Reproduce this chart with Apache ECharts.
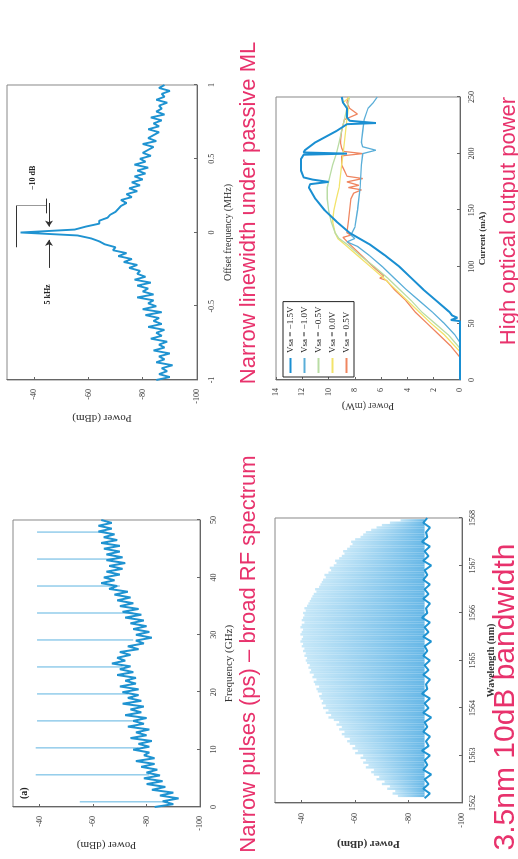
<!DOCTYPE html>
<html>
<head>
<meta charset="utf-8">
<script src="https://cdn.jsdelivr.net/npm/echarts@6/dist/echarts.min.js"></script>
<style>
html, body { margin:0; padding:0; width:518px; height:859px; overflow:hidden; background:#fff; }
/* the figure is laid out landscape, then turned a quarter turn to the left */
#container { position:absolute; left:0; top:0; width:859px; height:518px;
  transform-origin:0 0; transform:translate(0,859px) rotate(-90deg); }
</style>
</head>
<body>
<div id="container"></div>
<script>
// ---- linewidth (offset frequency, MHz) ----
var lwStart = -1, lwStep = 0.02;
var lwPower = [-85,-90,-86,-89,-87,-91,-85,-88,-86,-90,
  -84,-88,-86,-89,-83,-87,-85,-88,-82,-87,
  -84,-86,-81,-87,-80,-85,-82,-84,-78,-84,
  -80,-82,-78,-83,-77,-81,-78,-79,-75,-78,
  -73,-76,-71,-74,-69,-70,-66,-64,-61,-56,
  -35,
  -55,-59,-64,-64,-67,-68,-70,-71,-72,-74,
  -72,-76,-74,-78,-75,-79,-76,-80,-77,-81,
  -78,-82,-77,-81,-79,-83,-80,-82,-84,-80,
  -85,-82,-84,-86,-82,-86,-84,-87,-83,-88,
  -85,-87,-86,-89,-85,-88,-87,-90,-86,-88];

// ---- RF spectrum (GHz) ----
var rfStart = 0, rfStep = 0.5;
var rfPower = [-83,-90,-86,-92,-85,-90,-82,-87,-80,-86,
  -79,-85,-80,-84,-78,-83,-76,-83,-79,-81,
  -75,-81,-77,-82,-74,-80,-76,-81,-73,-79,
  -75,-80,-72,-78,-74,-79,-71,-78,-73,-77,
  -71,-77,-70,-76,-72,-76,-69,-75,-70,-74,
  -67,-72,-69,-74,-70,-77,-73,-79,-76,-82,
  -76,-81,-75,-80,-74,-79,-72,-78,-71,-77,
  -70,-75,-69,-74,-68,-73,-66,-69,-63,-68,
  -64,-70,-65,-71,-66,-72,-65,-71,-65,-70,
  -64,-70,-63,-69,-64,-68,-62,-67,-62,-67,
  -63];
var rfCombFreq = [0.9, 5.6, 10.3, 15.0, 19.7, 24.4, 29.1, 33.8, 38.5, 43.2, 47.9];
var rfCombPeak = [-55, -38.5, -38.5, -39, -39, -39, -39, -39, -39, -39, -39];
var rfCombBase = [-86, -81, -77, -75, -73, -71, -75, -75, -70, -68, -65];

// ---- optical spectrum (nm) ----
var osStart = 1562.1, osStep = 0.1;
var osFloor = [-86,-88,-85.5,-87.5,-86,-88.5,-85.5,-87,-86,-88,
  -85,-87.5,-86.5,-88,-85.5,-87,-86,-88.5,-85.5,-87.5,
  -86,-88,-85,-87,-86.5,-88,-85.5,-87.5,-86,-88,
  -85.5,-87,-86,-88.5,-85.5,-87.5,-86,-88,-85,-87,
  -86.5,-88,-85.5,-87.5,-86,-88,-85.5,-87,-86,-88.5,
  -85.5,-87.5,-86,-88,-85,-87,-86.5,-88,-85.5,-87];
var modeStart = 1562.15, modeStep = 0.05, modeBase = -86;
var modePeak = [-76,-74,-75,-72,-73,-70,-71,-68,-69,-67,
  -66,-67,-64,-65,-63,-64,-62,-63,-60,-61,
  -59,-60,-58,-57,-58,-56,-55,-56,-54,-55,
  -53,-54,-52,-50,-51,-49,-50,-48,-49,-47.5,
  -48,-47,-46.5,-47.5,-46,-45.5,-46.5,-45,-44.5,-45.5,
  -44,-44.5,-43,-43.5,-42.5,-43,-42,-41.5,-42,-41,
  -41.5,-40.5,-41,-40,-40.5,-39.5,-40,-40.5,-39.5,-40,
  -40.5,-39.5,-40,-41,-40,-40.5,-41,-40.5,-41.5,-41,
  -42,-42.5,-43,-43.5,-44,-44.5,-45.5,-45,-46.5,-47,
  -47.5,-48,-49,-48.5,-50,-51,-50.5,-52,-53,-52.5,
  -54,-55,-56,-55.5,-57,-58,-59,-58.5,-60,-62,
  -63,-64,-66,-68,-70,-73,-77];

// ---- L-I curves (mA, mW) ----
var liNames = ['Vsa = \u22121.5V', 'Vsa = \u22121.0V', 'Vsa = \u22120.5V', 'Vsa = 0.0V', 'Vsa = 0.5V'];
var liColors = ['#1a8fd2', '#5aaed8', '#b9dca4', '#f2e36a', '#ef8660'];
var li15I = [0,52,53,55,57,60,70,80,90,100,110,120,130,140,150,160,170,173,175,177,179,185,195,199,200,201,203,210,215,220,226,227,228,229,232,240,245,250];
var li15P = [0,0,0.7,0.2,0.6,0.8,1.8,2.8,3.7,4.6,5.7,6.9,8.4,9.4,10.3,11.0,11.5,11.4,10.0,11.2,11.9,12.1,12.1,11.9,8.6,11.9,11.8,11.0,10.2,9.4,8.6,6.4,6.4,8.4,8.6,8.6,8.9,9.0];
var li10I = [0,33,40,50,60,70,80,90,100,110,118,122,125,128,135,150,170,190,200,203,206,210,220,230,240,245,250];
var li10P = [0,0,0.4,1.2,2.1,3.1,4.1,5.0,5.9,6.9,7.8,8.6,8.0,8.3,8.0,7.8,7.6,7.5,7.4,6.4,7.4,7.5,7.4,7.3,7.0,6.6,6.3];
var li05I = [0,28,40,50,60,70,80,90,100,110,120,125,130,140,150,160,170,180,190,200,210,220,230,240,250];
var li05P = [0,0,0.9,1.9,2.9,3.7,4.6,5.5,6.5,7.6,8.6,9.2,9.5,9.8,10.0,10.1,10.1,9.9,9.7,9.4,9.2,9.0,8.8,8.6,8.4];
var li00I = [0,25,40,50,60,70,80,90,100,110,120,125,130,140,150,160,170,180,190,200,210,220,230,240,245,250];
var li00P = [0,0,1.2,2.2,3.1,4.0,4.9,5.8,6.8,7.8,8.8,9.3,9.5,9.7,9.6,9.4,9.2,9.1,9.0,8.9,8.8,8.7,8.6,8.5,8.9,8.4];
var liP05I = [0,20,30,40,50,60,70,80,88,90,92,100,110,120,126,128,130,140,150,160,165,168,170,172,175,178,180,185,190,198,200,202,205,210,220,230,235,240,245,250];
var liP05P = [0,0,0.7,1.6,2.5,3.4,4.1,5.0,5.6,6.1,5.8,6.6,7.5,8.4,8.9,8.3,8.6,8.5,8.4,8.3,8.1,7.5,8.5,7.7,8.6,7.4,8.6,8.8,9.0,9.0,7.4,8.9,9.0,9.1,9.0,8.8,7.8,8.4,8.6,8.5];

var captions = ['Narrow pulses (ps) \u2013 broad RF spectrum', 'Narrow linewidth under passive ML',
  '3.5nm 10dB bandwidth', 'High optical output power'];

function grid(start, step, values) {
  return values.map(function (v, i) { return [Math.round((start + i * step) * 1000) / 1000, v]; });
}
function pairs(xs, ys) {
  return xs.map(function (x, i) { return [x, ys[i]]; });
}

var serif = 'Liberation Serif';
var pink = '#e8326c';
var blue = '#1f93d1';

function axis(gridIndex, o) {
  var a = {
    type: 'value', gridIndex: gridIndex, nameLocation: 'middle',
    axisLine: {show: true, onZero: false, lineStyle: {color: '#666'}},
    axisTick: {show: true, inside: true, length: 3, lineStyle: {color: '#666'}},
    axisLabel: {color: '#333', fontSize: 8, fontFamily: serif, showMaxLabel: true,
      formatter: function (v) { return String(v); }},
    splitLine: {show: false},
    nameTextStyle: {color: '#333', fontSize: 10, fontFamily: serif}
  };
  for (var k in o) {
    if (typeof o[k] === 'object' && a[k]) a[k] = Object.assign({}, a[k], o[k]);
    else a[k] = o[k];
  }
  return a;
}

function stick(width, color) {
  return function (params, api) {
    var p1 = api.coord([api.value(0), api.value(1)]);
    var p2 = api.coord([api.value(0), api.value(2)]);
    return {type: 'line', shape: {x1: p1[0], y1: p1[1], x2: p2[0], y2: p2[1]},
      style: {stroke: color, lineWidth: width}};
  };
}

var chart = echarts.init(document.getElementById('container'), null, {renderer: 'canvas'});

var gridBox = {show: true, borderColor: '#888', borderWidth: 1, backgroundColor: '#fff', outerBoundsMode: 'none'};

var combData = rfCombFreq.map(function (f, i) { return [f, rfCombPeak[i], rfCombBase[i]]; });
var modeData = modePeak.map(function (p, i) {
  return [Math.round((modeStart + i * modeStep) * 1000) / 1000, p, modeBase];
});
var modeColor = new echarts.graphic.LinearGradient(0, 0, 0, 1, [
  {offset: 0, color: 'rgba(190,228,247,0.85)'},
  {offset: 1, color: 'rgba(75,170,226,0.85)'}
]);

var liX = [li15I, li10I, li05I, li00I, liP05I];
var liY = [li15P, li10P, li05P, li00P, liP05P];
var liSeries = [];
for (var s = 4; s >= 0; s--) {
  liSeries.push({
    name: liNames[s], type: 'line', xAxisIndex: 3, yAxisIndex: 3,
    data: pairs(liX[s], liY[s]), symbol: 'none', animation: false,
    lineStyle: {color: liColors[s], width: s === 0 ? 2 : 1.3}, itemStyle: {color: liColors[s]}
  });
}

var option = {
  backgroundColor: '#ffffff',
  animation: false,
  grid: [
    Object.assign({left: 479, top: 7, width: 295, height: 190}, gridBox),
    Object.assign({left: 52, top: 13, width: 287, height: 187}, gridBox),
    Object.assign({left: 56, top: 275, width: 285, height: 187}, gridBox),
    Object.assign({left: 479, top: 276, width: 283, height: 184}, gridBox)
  ],
  xAxis: [
    axis(0, {min: -1, max: 1, interval: 0.5, name: 'Offset frequency (MHz)', nameGap: 26,
      axisLabel: {margin: 11}}),
    axis(1, {min: 0, max: 50, interval: 10, name: 'Frequency (GHz)', nameGap: 24,
      axisLabel: {margin: 10}, nameTextStyle: {fontSize: 11}}),
    axis(2, {min: 1562, max: 1568, interval: 1, name: 'Wavelength (nm)', nameGap: 24,
      axisLabel: {margin: 7}, nameTextStyle: {fontSize: 10, fontWeight: 'bold'}}),
    axis(3, {min: 0, max: 250, interval: 50, name: 'Current (mA)', nameGap: 18,
      axisLabel: {margin: 8}, nameTextStyle: {fontSize: 9, fontWeight: 'bold'}})
  ],
  yAxis: [
    axis(0, {min: -100, max: -30, interval: 20, name: 'Power (dBm)', nameGap: 32,
      axisLabel: {margin: 9, showMaxLabel: false}, nameTextStyle: {fontSize: 11}}),
    axis(1, {min: -100, max: -30, interval: 20, name: 'Power (dBm)', nameGap: 32,
      axisLabel: {margin: 9, showMaxLabel: false}, nameTextStyle: {fontSize: 11}}),
    axis(2, {min: -100, max: -30, interval: 20, name: 'Power (dBm)', nameGap: 35,
      axisLabel: {margin: 10, showMaxLabel: false}, nameTextStyle: {fontSize: 11, fontWeight: 'bold'}}),
    axis(3, {min: 0, max: 14, interval: 2, name: 'Power (mW)', nameGap: 21,
      axisLabel: {margin: 8}, nameTextStyle: {fontSize: 10}})
  ],
  legend: {
    orient: 'vertical', left: 482, top: 283, icon: 'rect', itemWidth: 15, itemHeight: 2, itemGap: 5,
    padding: [3, 5, 3, 4], borderColor: '#222', borderWidth: 1, backgroundColor: '#fff',
    textStyle: {fontSize: 9, fontFamily: serif, color: '#222'},
    data: liNames
  },
  graphic: [
    {type: 'text', x: 205, y: 249, style: {text: captions[0], fill: pink, font: '22px "Liberation Sans"',
      align: 'center', verticalAlign: 'middle', textAlign: 'center', textVerticalAlign: 'middle'}},
    {type: 'text', x: 646, y: 249, style: {text: captions[1], fill: pink, font: '22px "Liberation Sans"',
      align: 'center', verticalAlign: 'middle', textAlign: 'center', textVerticalAlign: 'middle'}},
    {type: 'text', x: 162, y: 506, style: {text: captions[2], fill: pink, font: '30px "Liberation Sans"',
      align: 'center', verticalAlign: 'middle', textAlign: 'center', textVerticalAlign: 'middle'}},
    {type: 'text', x: 638, y: 509, style: {text: captions[3], fill: pink, font: '22px "Liberation Sans"',
      align: 'center', verticalAlign: 'middle', textAlign: 'center', textVerticalAlign: 'middle'}},
    {type: 'text', x: 60, y: 19, style: {text: '(a)', fill: '#222', font: 'bold 10px "Liberation Serif"'}}
  ],
  series: [
    {
      name: 'linewidth', type: 'line', xAxisIndex: 0, yAxisIndex: 0, data: grid(lwStart, lwStep, lwPower),
      symbol: 'none', lineStyle: {color: blue, width: 1.9},
      markLine: {
        silent: true, symbol: 'none', label: {show: false}, animation: false,
        lineStyle: {color: '#333', width: 1, type: 'solid'},
        data: [
          [{coord: [-0.1, -33.3]}, {coord: [0.18, -33.3]}],
          [{coord: [0.18, -33.5], lineStyle: {type: 'dotted', color: '#333'}}, {coord: [0.18, -44.6]}],
          [{coord: [0.13, -44.6]}, {coord: [0.23, -44.6]}],
          [{coord: [-0.24, -45.5], symbol: 'none'}, {coord: [-0.05, -45.5], symbol: 'arrow', symbolSize: 6}],
          [{coord: [0.2, -45.5], symbol: 'none'}, {coord: [0.04, -45.5], symbol: 'arrow', symbolSize: 6}]
        ]
      },
      markPoint: {
        silent: true, symbol: 'circle', symbolSize: 0, animation: false,
        label: {show: true, color: '#222', fontSize: 8, fontFamily: serif, fontWeight: 'bold'},
        data: [
          {coord: [0.37, -39.6], label: {formatter: '\u221210 dB'}},
          {coord: [-0.42, -45], label: {formatter: '5 kHz'}}
        ]
      }
    },
    {
      name: 'comb', type: 'custom', xAxisIndex: 1, yAxisIndex: 1, data: combData,
      encode: {x: 0, y: [1, 2]}, renderItem: stick(1, '#5db3e0'), z: 1
    },
    {
      name: 'rf', type: 'line', xAxisIndex: 1, yAxisIndex: 1, data: grid(rfStart, rfStep, rfPower),
      symbol: 'none', lineStyle: {color: blue, width: 2}, z: 2
    },
    {
      name: 'modes', type: 'custom', xAxisIndex: 2, yAxisIndex: 2, data: modeData,
      encode: {x: 0, y: [1, 2]}, renderItem: stick(2.4, modeColor), z: 1
    },
    {
      name: 'floor', type: 'line', xAxisIndex: 2, yAxisIndex: 2, data: grid(osStart, osStep, osFloor),
      symbol: 'none', lineStyle: {color: blue, width: 2}, z: 2
    }
  ].concat(liSeries)
};

chart.setOption(option);
</script>
</body>
</html>
